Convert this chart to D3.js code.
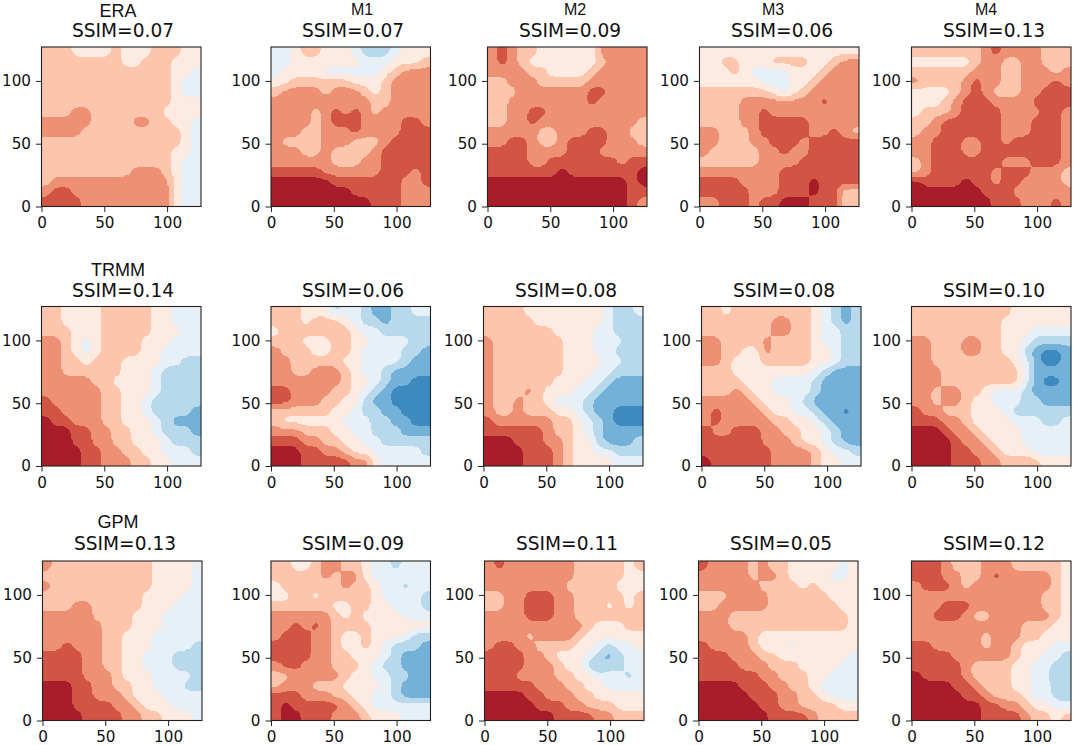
<!DOCTYPE html>
<html>
<head>
<meta charset="utf-8">
<script src="https://cdn.jsdelivr.net/npm/d3@7"></script>
<style>
body { margin: 0; background: #fff; }
svg { display: block; }
text { fill: #111; }
</style>
</head>
<body>
<svg id="chart" width="1074" height="745"></svg>
<script>
// band codes: 9 dark red ... 5 pale ... 1 dark blue. rows run top to bottom
const aEra = [
[6,6,6,5,5,5,5,6,5,5,5,6,6,6,5,5],
[6,6,6,6,6,6,6,6,5,5,6,6,6,5,5,5],
[6,6,6,6,6,6,6,6,6,6,6,6,6,5,5,4],
[6,6,6,6,6,6,6,6,6,6,6,6,6,5,4,4],
[6,6,6,6,6,6,6,6,6,6,6,6,6,5,4,4],
[6,6,6,6,6,6,6,6,6,6,6,6,6,5,5,5],
[6,6,6,7,7,6,6,6,6,6,6,6,5,5,5,5],
[7,7,7,7,7,6,6,6,6,7,7,6,6,5,5,4],
[7,7,7,7,6,6,6,6,6,6,6,6,6,6,5,4],
[6,6,6,6,6,6,6,6,6,6,6,6,6,6,5,4],
[6,6,6,6,6,6,6,6,6,6,6,6,6,5,5,4],
[6,6,6,6,6,6,6,6,6,6,6,6,6,5,4,4],
[6,6,6,6,6,6,6,6,6,7,7,7,6,5,4,4],
[6,7,7,7,7,7,7,7,7,7,7,7,7,5,4,4],
[7,8,8,7,7,7,7,7,7,7,7,7,7,5,4,4],
[8,8,8,8,7,7,7,7,7,7,7,7,7,5,4,4]];

const aEraM1 = [
[4,4,5,6,6,5,5,5,4,3,3,3,4,5,5,5],
[4,4,5,5,5,5,5,5,5,4,4,4,5,5,5,6],
[4,5,5,5,5,4,4,4,4,4,4,5,6,7,7,7],
[5,5,6,6,6,6,6,6,5,5,5,6,7,7,7,7],
[6,7,7,7,7,6,7,7,7,6,5,6,7,7,7,7],
[7,7,7,7,7,7,7,7,7,7,6,6,7,7,7,7],
[7,7,7,7,6,7,8,7,8,7,6,7,7,7,7,7],
[7,7,7,7,6,7,8,8,8,7,7,7,7,8,8,7],
[7,7,7,6,6,7,7,7,8,7,7,7,7,8,8,8],
[7,6,6,6,6,7,7,7,6,6,6,7,8,8,8,8],
[7,7,7,6,6,7,6,6,6,6,7,8,8,8,8,8],
[7,7,7,7,7,7,6,6,6,7,7,8,8,8,8,8],
[8,8,8,8,8,7,7,7,7,7,7,8,8,8,7,8],
[9,9,9,9,9,9,8,8,8,8,8,8,8,7,7,8],
[9,9,9,9,9,9,9,9,8,8,8,8,8,7,7,7],
[9,9,9,9,9,9,9,9,9,9,8,8,8,7,7,7]];

const aEraM2 = [
[7,8,7,6,6,5,5,5,5,5,5,7,7,7,7,7],
[7,8,7,6,5,5,5,5,5,5,5,6,7,7,7,7],
[7,7,7,7,6,6,5,5,5,5,6,7,7,7,7,7],
[6,6,7,7,7,6,6,6,6,6,7,7,7,7,7,7],
[6,6,6,7,7,7,7,7,7,7,8,8,7,7,7,7],
[6,6,7,7,7,7,7,7,7,7,8,7,7,7,7,7],
[6,6,7,7,8,8,7,7,7,7,7,7,7,7,7,7],
[6,6,7,7,8,7,7,7,7,7,7,7,7,7,7,6],
[7,7,7,7,7,6,6,7,7,7,8,8,7,7,6,6],
[7,7,8,8,7,6,6,7,8,8,8,8,7,7,7,6],
[8,8,8,8,7,7,7,7,8,8,8,7,7,7,7,7],
[8,8,8,8,7,7,8,8,8,8,8,8,8,7,8,8],
[8,8,8,8,8,8,8,9,8,8,8,8,8,8,8,9],
[9,9,9,9,9,9,9,9,9,9,9,9,9,9,8,9],
[9,9,9,9,9,9,9,9,9,9,9,9,9,9,8,8],
[9,9,9,9,9,9,9,9,9,9,9,9,9,9,8,7]];

const aEraM3 = [
[5,5,5,5,5,5,5,5,5,5,5,5,5,5,5,5],
[5,5,6,6,5,5,5,6,6,6,6,5,5,6,7,7],
[5,5,5,6,5,4,4,4,4,5,5,5,6,7,7,7],
[5,5,5,5,5,5,4,4,4,5,5,6,7,7,7,7],
[6,6,6,6,6,6,6,5,4,5,6,7,7,7,7,7],
[6,6,6,6,7,7,7,7,7,7,7,7,8,7,7,7],
[6,6,6,6,7,7,8,7,7,7,7,7,7,7,7,7],
[6,6,6,6,7,7,8,8,8,8,8,7,7,7,7,7],
[7,7,6,6,6,7,8,8,8,8,8,7,7,8,7,6],
[7,7,6,6,6,7,7,8,8,8,7,8,8,8,8,8],
[7,6,6,6,6,6,7,7,8,7,7,8,8,8,8,8],
[6,6,6,6,6,6,7,7,7,7,8,8,8,8,8,8],
[7,7,7,7,7,7,7,7,8,8,8,8,8,8,8,8],
[8,8,8,8,7,7,7,7,8,8,8,9,8,8,8,8],
[8,8,8,8,8,7,7,7,8,8,8,9,8,8,6,6],
[7,7,8,8,8,7,8,8,9,9,9,8,8,8,6,6]];

const aEraM4 = [
[6,6,6,6,6,6,6,7,8,7,7,7,7,6,6,6],
[5,5,5,5,5,5,6,7,7,6,6,7,7,6,6,6],
[6,6,6,6,6,6,7,7,7,6,6,7,7,7,6,7],
[7,6,6,6,6,7,8,7,7,6,6,7,7,7,8,7],
[5,5,5,5,6,7,8,7,6,6,6,7,7,8,8,8],
[5,5,5,6,7,8,8,8,7,7,7,7,8,8,8,8],
[5,6,6,6,7,8,8,8,8,7,7,7,7,8,8,7],
[6,6,7,8,8,8,8,8,8,7,7,7,8,8,8,7],
[6,7,7,8,8,8,8,8,8,7,7,7,8,8,8,7],
[7,7,8,8,8,7,7,8,8,7,8,8,8,8,8,7],
[7,7,8,8,8,7,7,8,8,8,8,8,8,8,8,7],
[6,7,8,8,8,8,8,8,8,7,7,7,8,8,8,7],
[6,7,8,8,8,8,8,8,7,8,8,8,7,7,7,6],
[9,8,8,8,8,9,8,8,7,8,8,7,7,7,7,6],
[9,9,9,9,9,9,9,8,8,8,7,7,7,7,7,7],
[9,9,9,9,9,9,9,9,8,8,8,7,7,7,8,7]];

const aTrmm = [
[6,6,5,5,5,5,6,6,6,6,6,5,5,4,4,4],
[6,6,5,5,5,5,6,6,6,6,6,5,5,4,4,4],
[6,6,6,5,5,5,6,6,6,6,6,5,5,5,4,4],
[7,7,6,5,4,5,6,6,6,6,5,5,5,4,4,4],
[7,7,6,5,4,5,6,6,6,6,5,5,4,4,4,4],
[7,7,6,6,5,6,6,6,5,5,5,5,4,4,3,3],
[7,7,6,6,6,6,6,6,5,5,5,4,3,3,3,3],
[7,7,7,7,7,6,6,5,5,5,5,4,3,3,3,3],
[7,7,7,7,7,7,6,6,5,5,5,4,3,3,3,3],
[8,7,7,7,7,7,6,6,5,5,4,3,3,3,3,3],
[8,8,7,7,7,7,6,6,5,5,4,3,3,3,3,2],
[9,8,8,7,7,7,6,6,5,5,5,4,3,2,2,2],
[9,9,9,8,8,7,7,6,6,5,5,4,3,3,3,2],
[9,9,9,8,8,7,7,6,6,5,5,5,4,3,3,3],
[9,9,9,9,8,8,7,7,6,6,5,5,4,4,4,3],
[9,9,9,9,8,8,7,7,7,6,6,5,5,4,4,4]];

const aTrmmM1 = [
[6,6,6,5,5,5,3,4,4,3,2,2,3,3,4,4],
[6,6,6,5,6,6,6,5,4,3,3,2,3,3,3,3],
[5,6,6,6,6,6,6,6,5,4,4,3,3,3,3,3],
[6,6,6,5,5,5,6,6,5,5,4,4,4,4,3,3],
[7,6,6,6,5,5,6,6,5,4,4,4,4,3,3,2],
[7,7,6,6,6,6,6,5,5,4,4,4,4,3,2,2],
[7,7,6,6,7,7,7,6,5,4,4,3,2,2,2,2],
[7,7,7,7,7,7,7,6,5,5,4,3,2,2,1,1],
[8,8,7,7,7,7,6,6,5,4,3,2,1,1,1,1],
[8,8,7,7,7,6,6,5,5,3,2,2,1,1,1,1],
[6,6,6,6,6,6,5,5,4,3,3,2,2,1,1,1],
[6,5,5,5,5,5,5,4,4,4,3,3,2,2,1,1],
[7,7,7,6,6,6,5,5,4,4,3,3,3,2,2,2],
[8,8,8,7,7,6,6,5,5,4,4,3,3,3,3,3],
[9,9,9,8,8,7,7,6,5,5,4,4,4,4,4,3],
[9,9,9,8,8,8,8,8,7,7,5,4,4,4,4,4]];

const aTrmmM2 = [
[6,6,6,6,5,5,5,5,5,5,5,5,4,3,3,4],
[6,6,6,6,6,5,5,5,5,5,5,5,4,3,3,3],
[6,6,6,6,6,6,6,5,5,5,5,4,4,3,3,3],
[7,6,6,6,6,6,6,6,5,5,5,4,4,4,3,3],
[7,6,6,6,6,6,6,6,5,5,5,4,4,3,3,3],
[7,6,6,6,6,6,6,6,5,5,5,5,4,4,3,3],
[7,6,6,6,6,6,6,6,5,5,5,4,4,3,3,3],
[7,6,6,6,6,6,6,5,5,5,4,4,3,2,2,2],
[7,6,6,6,7,6,5,5,5,4,4,3,2,2,2,2],
[7,6,6,7,6,6,5,4,4,4,3,2,2,2,2,2],
[7,6,6,7,6,6,6,5,5,4,3,2,2,1,1,1],
[8,7,7,7,7,7,7,6,6,5,4,3,2,1,1,1],
[8,8,8,8,8,8,7,6,6,5,4,3,2,2,2,2],
[9,9,9,8,8,8,7,7,6,5,5,3,2,2,2,3],
[9,9,9,9,8,8,8,7,6,5,5,4,4,3,3,3],
[9,9,9,9,8,8,8,7,6,5,5,5,5,4,4,4]];

const aTrmmM3 = [
[6,6,5,6,6,6,6,6,6,6,6,5,4,3,2,3],
[6,6,6,6,6,6,6,7,7,6,6,5,4,3,2,3],
[6,6,6,6,6,6,6,7,7,6,6,5,4,4,3,3],
[7,7,6,6,6,6,7,6,6,6,6,5,4,4,3,3],
[7,7,6,6,5,5,7,6,6,6,6,5,5,4,3,3],
[7,7,6,5,5,5,6,6,6,6,6,5,5,4,3,3],
[6,6,6,5,5,5,5,5,5,5,5,4,3,2,2,2],
[6,6,6,6,5,5,5,4,4,4,4,3,2,2,2,2],
[6,6,6,7,6,5,5,4,4,4,4,3,2,2,2,2],
[7,7,7,7,7,6,5,5,5,4,3,2,2,2,2,2],
[7,8,7,7,7,7,6,5,5,4,4,3,2,2,1,2],
[7,8,7,7,7,7,7,6,6,5,5,4,3,2,2,2],
[8,7,7,8,8,8,7,7,6,6,5,5,4,3,2,2],
[8,8,8,8,8,8,7,7,7,6,5,5,4,3,2,2],
[8,8,8,8,8,8,8,7,7,7,7,6,5,4,4,3],
[9,8,8,8,8,8,8,7,7,7,7,6,5,5,4,4]];

const aTrmmM4 = [
[6,6,6,6,6,6,6,6,6,6,5,5,5,5,5,5],
[6,6,6,6,6,6,6,6,6,5,5,5,5,5,5,5],
[6,6,6,6,6,6,6,6,6,5,5,5,4,4,4,4],
[7,7,6,6,6,7,7,6,6,5,5,4,3,3,3,3],
[7,7,6,6,6,7,7,6,6,5,5,3,2,1,1,2],
[7,7,6,6,6,6,6,6,6,6,5,4,2,1,1,2],
[7,7,7,6,6,6,6,6,6,6,6,4,2,2,2,2],
[7,7,7,6,6,6,6,6,6,6,6,4,2,1,1,2],
[7,7,6,7,7,6,6,5,4,4,4,3,2,2,2,2],
[7,7,6,7,7,6,5,5,4,4,4,3,3,2,2,2],
[8,7,7,6,6,6,5,5,5,4,3,3,3,3,3,3],
[8,8,8,7,7,6,5,5,5,5,4,4,4,3,3,4],
[9,9,9,8,7,7,6,5,5,5,5,4,4,4,4,4],
[9,9,9,9,8,7,7,6,5,5,5,4,4,4,4,4],
[9,9,9,9,8,8,7,7,6,5,5,5,4,4,4,4],
[9,9,9,9,8,8,8,7,7,6,6,6,6,5,5,5]];

const aGpm = [
[7,6,6,6,6,6,6,6,6,6,6,5,5,5,5,4],
[6,6,6,6,6,6,6,6,6,6,6,5,5,5,5,4],
[7,6,6,6,6,6,6,6,6,6,6,5,5,5,5,4],
[6,6,6,6,6,6,6,6,6,6,5,5,5,5,4,4],
[6,6,6,7,7,6,6,6,6,6,5,5,5,4,4,4],
[7,7,7,7,7,6,6,6,6,5,5,5,4,4,4,4],
[7,7,7,7,7,7,6,6,6,5,5,5,4,4,4,4],
[7,7,7,7,7,7,6,6,5,5,5,4,4,4,4,4],
[7,7,8,7,7,7,6,6,5,5,5,4,4,4,4,3],
[8,8,8,8,7,7,6,6,5,5,4,4,4,3,3,3],
[8,8,8,8,7,7,6,6,5,5,4,4,4,3,3,3],
[8,8,8,8,7,7,7,6,5,5,5,4,4,4,4,3],
[9,9,9,8,8,7,7,6,6,5,5,4,4,4,3,3],
[9,9,9,8,8,7,7,7,6,5,5,5,4,4,4,4],
[9,9,9,8,8,8,8,7,7,6,5,5,5,4,4,4],
[9,9,9,9,8,8,8,8,7,7,6,6,5,5,5,4]];

const aGpmM1 = [
[6,6,5,5,6,7,7,6,6,5,4,4,3,4,4,4],
[6,6,6,6,6,7,6,7,7,5,4,4,4,4,4,4],
[5,6,6,6,6,6,6,7,6,6,5,4,4,3,4,4],
[5,5,6,6,5,6,6,6,6,6,5,4,4,4,4,3],
[6,6,6,6,6,6,5,5,6,6,5,5,4,4,4,3],
[7,7,7,7,7,7,6,5,6,5,5,5,5,4,4,4],
[7,7,8,7,8,7,6,6,6,6,5,5,5,6,5,5],
[7,8,8,8,7,7,6,5,5,6,5,5,5,4,3,3],
[8,8,8,8,7,7,6,5,5,6,5,4,3,3,3,2],
[8,8,8,8,7,7,6,6,5,5,5,4,3,2,2,2],
[7,8,8,7,7,7,6,6,6,5,4,3,3,2,2,2],
[6,6,7,7,7,7,7,6,5,5,4,4,3,3,2,2],
[6,7,7,7,6,6,6,5,5,5,5,4,3,2,2,2],
[8,8,8,7,7,7,6,6,5,5,4,4,3,2,2,2],
[8,9,8,8,8,8,8,7,6,5,4,4,4,4,4,4],
[8,9,9,8,8,8,7,7,7,6,5,5,5,4,4,4]];

const aGpmM2 = [
[7,8,7,7,7,7,7,7,7,6,6,6,6,6,5,6],
[7,7,7,7,7,7,7,7,7,6,6,6,6,6,5,5],
[7,7,7,7,7,7,7,7,6,6,6,6,6,5,5,5],
[6,6,7,7,8,8,8,7,7,6,6,6,6,6,5,6],
[6,6,7,7,8,8,8,7,7,6,6,6,5,6,5,6],
[7,7,7,7,8,8,8,7,7,6,6,6,6,6,6,6],
[7,7,7,7,7,7,7,7,7,7,6,5,5,5,6,6],
[7,7,7,7,6,7,7,7,7,6,5,5,5,5,5,5],
[7,8,8,7,7,6,6,6,6,5,5,4,3,4,4,5],
[8,8,8,8,7,7,6,5,5,5,4,3,2,3,4,4],
[8,8,8,8,7,7,7,6,5,5,3,2,3,3,4,4],
[8,8,8,7,7,7,7,6,6,5,5,4,4,4,3,4],
[8,8,8,8,8,7,7,7,6,6,5,5,4,4,4,4],
[9,9,9,9,8,8,7,7,7,6,6,5,5,5,5,5],
[9,9,9,9,9,8,8,8,7,7,6,6,6,5,5,5],
[9,9,9,9,9,9,9,8,8,8,8,7,7,6,6,6]];

const aGpmM3 = [
[8,7,7,7,7,6,7,6,6,5,5,5,5,5,4,5],
[7,7,7,7,7,6,7,7,6,5,5,5,5,4,4,5],
[7,7,7,7,7,7,6,6,6,6,5,6,5,5,5,5],
[6,6,6,7,7,7,7,6,6,6,6,6,6,5,5,5],
[6,6,7,7,7,7,7,6,6,6,6,6,6,6,5,5],
[7,7,7,6,6,6,6,6,6,6,6,6,6,6,6,5],
[7,7,7,6,6,6,6,6,6,6,6,6,6,6,6,5],
[7,7,7,7,7,6,5,5,5,5,5,5,5,5,5,5],
[8,7,7,7,7,6,5,4,5,4,5,5,5,5,5,5],
[8,8,8,7,7,7,6,6,5,5,5,5,5,5,5,4],
[8,8,8,8,7,7,7,6,6,6,5,5,5,5,4,4],
[8,8,8,8,8,8,7,7,6,6,6,5,5,4,4,4],
[9,9,9,9,8,8,8,7,7,6,6,5,4,4,4,4],
[9,9,9,9,9,8,8,8,7,7,6,6,5,4,4,4],
[9,9,9,9,9,9,8,8,7,7,6,6,6,6,5,5],
[9,9,9,9,9,9,9,8,8,8,8,7,6,6,6,6]];

const aGpmM4 = [
[8,8,8,7,6,6,6,7,7,7,6,6,6,6,6,5],
[8,8,8,7,7,6,6,7,8,7,7,7,7,7,6,5],
[7,8,8,8,7,6,7,7,7,7,7,7,7,7,6,5],
[7,7,7,7,7,7,7,7,7,7,7,7,7,6,6,5],
[7,7,7,8,8,8,7,7,7,7,7,7,7,6,6,5],
[7,7,8,8,8,7,6,6,7,7,7,7,7,7,6,5],
[7,7,7,7,7,7,7,7,7,7,7,6,6,6,5,5],
[7,7,7,7,7,7,7,6,7,7,7,6,6,5,5,5],
[8,8,7,7,7,7,7,6,7,7,6,5,5,5,4,4],
[8,8,8,8,7,7,7,7,7,7,6,5,5,4,4,3],
[8,8,8,8,8,7,6,6,6,6,5,5,4,4,3,3],
[9,8,8,8,8,7,6,6,6,6,5,5,4,4,2,3],
[9,9,9,9,8,8,7,6,6,6,5,5,4,4,3,3],
[9,9,9,9,9,8,8,7,6,6,6,5,4,4,3,3],
[9,9,9,9,9,9,9,8,8,7,7,6,5,5,4,4],
[9,9,9,9,9,9,9,8,8,8,8,7,6,6,5,6]];

const aBandCodes = [1,2,3,4,5,6,7,8,9];
const aBandColors = ['#3c8ac0','#74b1d8','#b8d8eb','#e6f0f6','#fdebe2','#fcc5ac','#ee9073','#d15445','#a91d2b'];

const aRowTitles = ['ERA','TRMM','GPM'];
const aColTitles = ['M1','M2','M3','M4'];
const aSsimLabels = [
	['SSIM=0.07','SSIM=0.07','SSIM=0.09','SSIM=0.06','SSIM=0.13'],
	['SSIM=0.14','SSIM=0.06','SSIM=0.08','SSIM=0.08','SSIM=0.10'],
	['SSIM=0.13','SSIM=0.09','SSIM=0.11','SSIM=0.05','SSIM=0.12']
];
const aGrids = [
	[aEra,aEraM1,aEraM2,aEraM3,aEraM4],
	[aTrmm,aTrmmM1,aTrmmM2,aTrmmM3,aTrmmM4],
	[aGpm,aGpmM1,aGpmM2,aGpmM3,aGpmM4]
];
const aTicks = [0,50,100];

// the panels do not sit on a clean grid in the reference
const aPanelTop = [47,306.5,561];
const aPanelLeft = [
	[41.5,271,487.5,699.5,911.5],
	[41.5,271,483.5,701.5,911.5],
	[42.5,271,484.5,698.5,911.5]
];
const aSsimCenter = [
	[123,353,570,782,994],
	[123,353,566,784,994],
	[125,353,567,781,994]
];
const aColTitleCenter = [362,575,773,986];
const aSsimBaseline = [37,297,550];
const aRowTitleBaseline = [16.5,276,528];
const nPanelSize = 159.5;
const nPixelsPerCell = 8;
const nBlurRadius = 3;

const sSvg = d3.select('#chart');
const fnColor = d3.scaleOrdinal(aBandCodes,aBandColors);

aGrids.forEach(function(aRowGrids,iRow)
{
	aRowGrids.forEach(function(aGrid,iCol)
	{
		DrawPanel(aGrid,aPanelLeft[iRow][iCol],aPanelTop[iRow]);

		sSvg.append('text')
			.attr('x',aSsimCenter[iRow][iCol])
			.attr('y',aSsimBaseline[iRow])
			.attr('text-anchor','middle')
			.style('font','18.6px "DejaVu Sans"')
			.text(aSsimLabels[iRow][iCol]);
	});
	sSvg.append('text')
		.attr('x',118)
		.attr('y',aRowTitleBaseline[iRow])
		.attr('text-anchor','middle')
		.style('font','18px "Liberation Sans"')
		.text(aRowTitles[iRow]);
});

aColTitles.forEach(function(strTitle,iCol)
{
	sSvg.append('text')
		.attr('x',aColTitleCenter[iCol])
		.attr('y',15)
		.attr('text-anchor','middle')
		.style('font','16px "Liberation Sans"')
		.text(strTitle);
});

// repeat each read cell over the 128 pixel field and soften the cell edges
function BuildField(aGrid)
{
	const nSize = aGrid.length*nPixelsPerCell;
	const aField = new Float64Array(nSize*nSize);
	for (var y = 0; y < nSize; y++)
	{
		for (var x = 0; x < nSize; x++)
		{
			aField[y*nSize+x] = aGrid[Math.floor(y/nPixelsPerCell)][Math.floor(x/nPixelsPerCell)];
		}
	}
	d3.blur2({data: aField, width: nSize, height: nSize},nBlurRadius);
	return {values: aField, size: nSize};
}

function DrawPanel(aGrid,nLeft,nTop)
{
	const oField = BuildField(aGrid);
	const xScale = d3.scaleLinear().domain([0,127]).range([0,nPanelSize]);
	const yScale = d3.scaleLinear().domain([0,127]).range([nPanelSize,0]);
	// field index to data units, row 0 is the top of the panel
	const xCell = d3.scaleLinear().domain([0,oField.size]).range([0,127]);
	const yCell = d3.scaleLinear().domain([0,oField.size]).range([127,0]);

	const sPanel = sSvg.append('g').attr('transform','translate('+nLeft+','+nTop+')');

	const fnPath = d3.geoPath(d3.geoTransform({
		point: function(x,y) { this.stream.point(xScale(xCell(x)),yScale(yCell(y))); }
	}));

	const aThresholds = aBandCodes.map(function(nCode) { return nCode-0.5; });
	const aContours = d3.contours()
		.size([oField.size,oField.size])
		.smooth(false)
		.thresholds(aThresholds)(Array.from(oField.values));

	sPanel.selectAll('path.band')
		.data(aContours)
		.enter()
			.append('path')
			.attr('class','band')
			.attr('d',fnPath)
			.attr('fill',function(d) { return fnColor(d.value+0.5); })
			.attr('shape-rendering','crispEdges');

	sPanel.append('rect')
		.attr('width',nPanelSize)
		.attr('height',nPanelSize)
		.attr('fill','none')
		.attr('stroke','#222')
		.attr('stroke-width',1.1);

	const sAxisX = sPanel.append('g')
		.attr('transform','translate(0,'+nPanelSize+')')
		.call(d3.axisBottom(xScale).tickValues(aTicks).tickSize(5.5).tickPadding(5.5));
	const sAxisY = sPanel.append('g')
		.call(d3.axisLeft(yScale).tickValues(aTicks).tickSize(5.5).tickPadding(5));

	[sAxisX,sAxisY].forEach(function(sAxis)
	{
		sAxis.select('.domain').remove();
		sAxis.selectAll('text').style('font','15.2px "DejaVu Sans"').attr('fill','#111');
		sAxis.selectAll('line').attr('stroke','#222');
	});
}
</script>
</body>
</html>
